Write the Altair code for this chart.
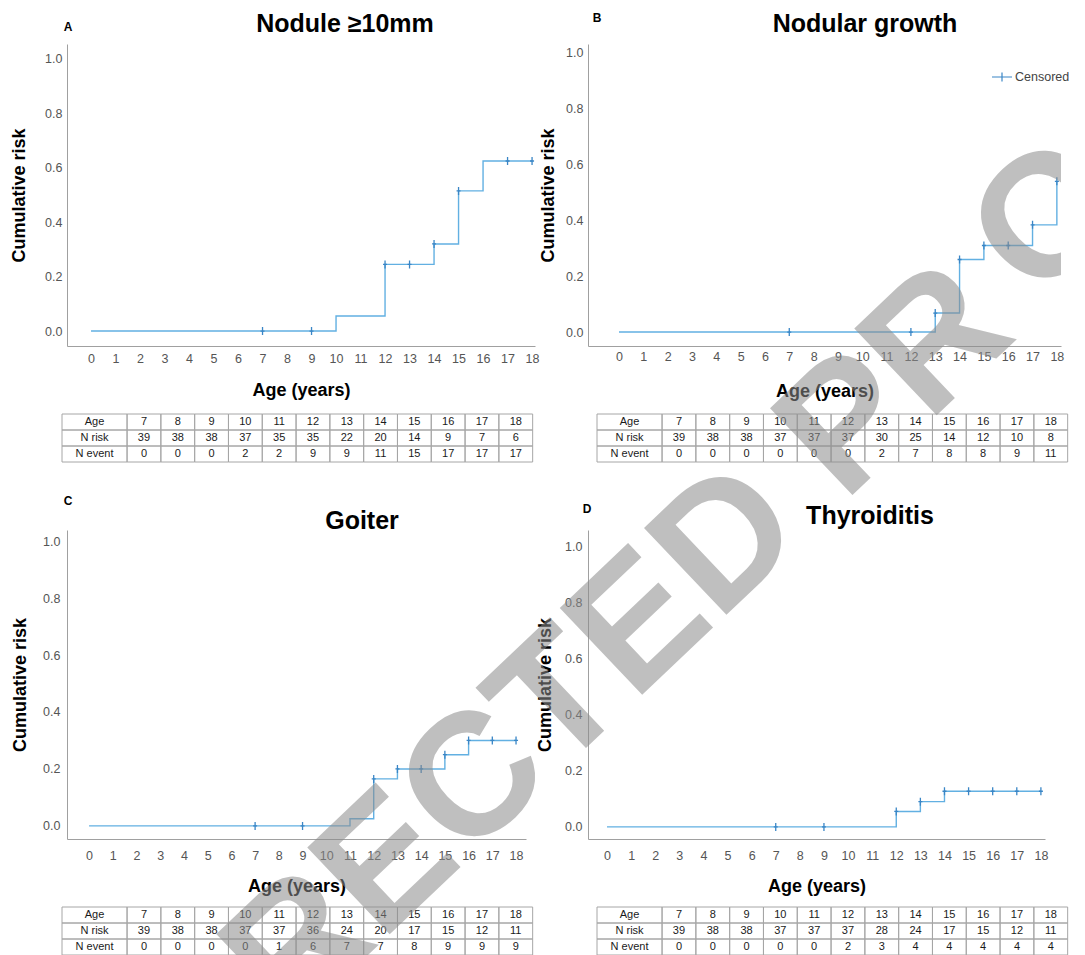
import altair as alt
import pandas as pd

FONT = "Liberation Sans"
LINE_C = "#62b0e2"
MARK_C = "#3a86c6"
CROSS = "M-0.5,0H0.5M0,-1V1"

# ---------------- data ----------------
AXIS_AGES = list(range(19))
TABLE_AGES = [7, 8, 9, 10, 11, 12, 13, 14, 15, 16, 17, 18]
ROWS = ["Age", "N risk", "N event"]
Y_TICKS = [0.0, 0.2, 0.4, 0.6, 0.8, 1.0]

# A: Nodule >=10mm
A_step_t = [0, 10, 12, 14, 15, 16, 18]
A_step_r = [0.0, 0.055, 0.245, 0.32, 0.515, 0.625, 0.625]
A_cens_t = [7, 9, 12, 13, 14, 15, 17, 18]
A_cens_r = [0.0, 0.0, 0.245, 0.245, 0.32, 0.515, 0.625, 0.625]
A_nrisk = [39, 38, 38, 37, 35, 35, 22, 20, 14, 9, 7, 6]
A_nevent = [0, 0, 0, 2, 2, 9, 9, 11, 15, 17, 17, 17]

# B: Nodular growth
B_step_t = [0, 13, 14, 15, 17, 18]
B_step_r = [0.0, 0.068, 0.26, 0.31, 0.384, 0.54]
B_cens_t = [7, 12, 13, 14, 15, 16, 17, 18]
B_cens_r = [0.0, 0.0, 0.068, 0.26, 0.31, 0.31, 0.384, 0.54]
B_nrisk = [39, 38, 38, 37, 37, 37, 30, 25, 14, 12, 10, 8]
B_nevent = [0, 0, 0, 0, 0, 0, 2, 7, 8, 8, 9, 11]

# C: Goiter
C_step_t = [0, 11, 12, 13, 15, 16, 18]
C_step_r = [0.0, 0.025, 0.165, 0.2, 0.25, 0.3, 0.3]
C_cens_t = [7, 9, 12, 13, 14, 15, 16, 17, 18]
C_cens_r = [0.0, 0.0, 0.165, 0.2, 0.2, 0.25, 0.3, 0.3, 0.3]
C_nrisk = [39, 38, 38, 37, 37, 36, 24, 20, 17, 15, 12, 11]
C_nevent = [0, 0, 0, 0, 1, 6, 7, 7, 8, 9, 9, 9]

# D: Thyroiditis
D_step_t = [0, 12, 13, 14, 18]
D_step_r = [0.0, 0.055, 0.09, 0.127, 0.127]
D_cens_t = [7, 9, 12, 13, 14, 15, 16, 17, 18]
D_cens_r = [0.0, 0.0, 0.055, 0.09, 0.127, 0.127, 0.127, 0.127, 0.127]
D_nrisk = [39, 38, 38, 37, 37, 37, 28, 24, 17, 15, 12, 11]
D_nevent = [0, 0, 0, 0, 0, 2, 3, 4, 4, 4, 4, 4]

# watermark pieces
WM_MAIN = "RECTED PR"
WM_EDGE = "O"
WM_STYLE = dict(font=FONT, fontWeight="bold", fontSize=174, angle=316.5,
                color="#8c8c8c", opacity=0.55, align="center", baseline="middle")


def watermark(text, x, y, clip=False):
    return alt.Chart(pd.DataFrame({"w": [text]})).mark_text(clip=clip, **WM_STYLE).encode(
        text="w:N", x=alt.value(x), y=alt.value(y))


def km_plot(step_t, step_r, cens_t, cens_r, title, letter, w, h, xdom, ydom,
            title_dx, title_dy, ytitle_x, ylabel_pad, xlabel_pad, xtitle_y,
            letter_xy, legend=False, extra=None):
    line_df = pd.DataFrame({"t": step_t, "r": step_r})
    cens_df = pd.DataFrame({"t": cens_t, "r": cens_r, "k": ["Censored"] * len(cens_t)})
    xs = alt.Scale(domain=xdom, nice=False, zero=False)
    ys = alt.Scale(domain=ydom, nice=False, zero=False)
    xax = alt.Axis(values=AXIS_AGES, ticks=False, grid=False, labelAngle=0,
                   labelPadding=xlabel_pad, title="Age (years)", titleX=w / 2,
                   titleY=xtitle_y, titleAlign="center", titleBaseline="middle")
    yax = alt.Axis(values=Y_TICKS, format=".1f", ticks=False, grid=False,
                   labelPadding=ylabel_pad, title="Cumulative risk", titleX=ytitle_x,
                   titleY=h / 2, titleAngle=270, titleAlign="center",
                   titleBaseline="middle")
    line = alt.Chart(line_df).mark_line(
        interpolate="step-after", color=LINE_C, strokeWidth=1.4
    ).encode(x=alt.X("t:Q", scale=xs, axis=xax), y=alt.Y("r:Q", scale=ys, axis=yax))
    if legend:
        color = alt.Color(
            "k:N",
            scale=alt.Scale(domain=["Censored"], range=[MARK_C]),
            legend=alt.Legend(
                title=None, orient="none", legendX=924, legendY=22,
                symbolType="M-1,0H1M0,-0.45V0.45", symbolSize=400,
                symbolStrokeWidth=1.2, labelFont=FONT, labelFontSize=12.5,
                labelColor="#444444", padding=0, labelOffset=2,
            ),
        )
    else:
        color = alt.value(MARK_C)
    pts = alt.Chart(cens_df).mark_point(
        shape=CROSS, size=64, filled=False, strokeWidth=1.3, opacity=1
    ).encode(x=alt.X("t:Q", scale=xs, axis=xax), y=alt.Y("r:Q", scale=ys, axis=yax),
             color=color)
    let = alt.Chart(pd.DataFrame({"l": [letter]})).mark_text(
        font=FONT, fontWeight="bold", fontSize=12, align="center",
        baseline="middle", color="black"
    ).encode(text="l:N", x=alt.value(letter_xy[0]), y=alt.value(letter_xy[1]))
    layers = [line, pts, let]
    if extra is not None:
        layers.append(extra)
    return alt.layer(*layers).properties(
        width=w, height=h,
        title=alt.TitleParams(
            title, dx=title_dx, dy=title_dy, offset=0, frame="group", anchor="middle",
            baseline="alphabetic", fontSize=25, font=FONT, fontWeight="bold",
            color="black",
        ),
    )


K = 33.8
L = 1.925


def table_chart(nrisk, nevent, w, off, extra=None):
    recs = []
    for r, vals in zip(ROWS, [TABLE_AGES, nrisk, nevent]):
        recs.append({"row": r, "x0": -L, "x1": 0.0, "xc": -L / 2, "txt": r})
        for i, v in enumerate(vals):
            recs.append({"row": r, "x0": float(i), "x1": i + 1.0, "xc": i + 0.5,
                         "txt": str(v)})
    df = pd.DataFrame(recs)
    d0 = -L - off / K
    d1 = d0 + w / K
    xs = alt.Scale(domain=[d0, d1], nice=False, zero=False)
    ys = alt.Scale(domain=ROWS, paddingInner=0, paddingOuter=0)
    base = alt.Chart(df)
    cells = base.mark_rect(fill="transparent", stroke="#a6a6a6", strokeWidth=1).encode(
        x=alt.X("x0:Q", scale=xs, axis=None), x2="x1:Q",
        y=alt.Y("row:N", scale=ys, axis=None, sort=ROWS),
    )
    txt = base.mark_text(font=FONT, fontSize=11, color="#1a1a1a").encode(
        x=alt.X("xc:Q", scale=xs, axis=None),
        y=alt.Y("row:N", scale=ys, axis=None, sort=ROWS),
        text="txt:N",
    )
    layers = [cells, txt]
    if extra is not None:
        layers.append(extra)
    return alt.layer(*layers).properties(width=w, height=48)


pA = km_plot(A_step_t, A_step_r, A_cens_t, A_cens_r, "Nodule ≥10mm", "A",
             468, 302, [-0.98, 18.12], [-0.055, 1.055],
             44, 36, -48, 5, 6, 44, (1, -17))
pB = km_plot(B_step_t, B_step_r, B_cens_t, B_cens_r, "Nodular growth", "B",
             473, 302, [-1.274, 18.17], [-0.050, 1.032],
             40.5, 45, -40, 5, 4, 45, (9, -26), legend=True,
             extra=watermark(WM_EDGE, 462, 176, clip=True))
pC = km_plot(C_step_t, C_step_r, C_cens_t, C_cens_r, "Goiter", "C",
             459, 309, [-0.93, 18.42], [-0.046, 1.039],
             65.5, 59, -47, 7, 10, 47, (1, -29))
pD = km_plot(D_step_t, D_step_r, D_cens_t, D_cens_r, "Thyroiditis", "D",
             457, 309, [-0.788, 18.17], [-0.043, 1.057],
             53.5, 46, -43, 6, 10, 47, (-1, -21))

tA = table_chart(A_nrisk, A_nevent, 468, -5)
tB = table_chart(B_nrisk, B_nevent, 470, 9)
tC = table_chart(C_nrisk, C_nevent, 468, -5)
tD = table_chart(D_nrisk, D_nevent, 470, 9, extra=watermark(WM_MAIN, 31, -262))

chart = alt.concat(
    pA, pB, tA, tB, pC, pD, tC, tD,
    columns=2, spacing={"row": 68, "column": 53}, bounds="flush", align="none",
).properties(
    padding={"left": 2, "top": 4, "right": 0, "bottom": 0}
).configure_view(stroke=None).configure_axis(
    domainColor="#a0a0a0", domainWidth=1, labelFont=FONT, labelFontSize=12.5,
    labelColor="#555555", titleFont=FONT, titleFontSize=18, titleFontWeight="bold",
    titleColor="black", labelFlush=False, labelOverlap=False,
)

chart.save("out.html", embed_options={"renderer": "svg", "actions": False})
